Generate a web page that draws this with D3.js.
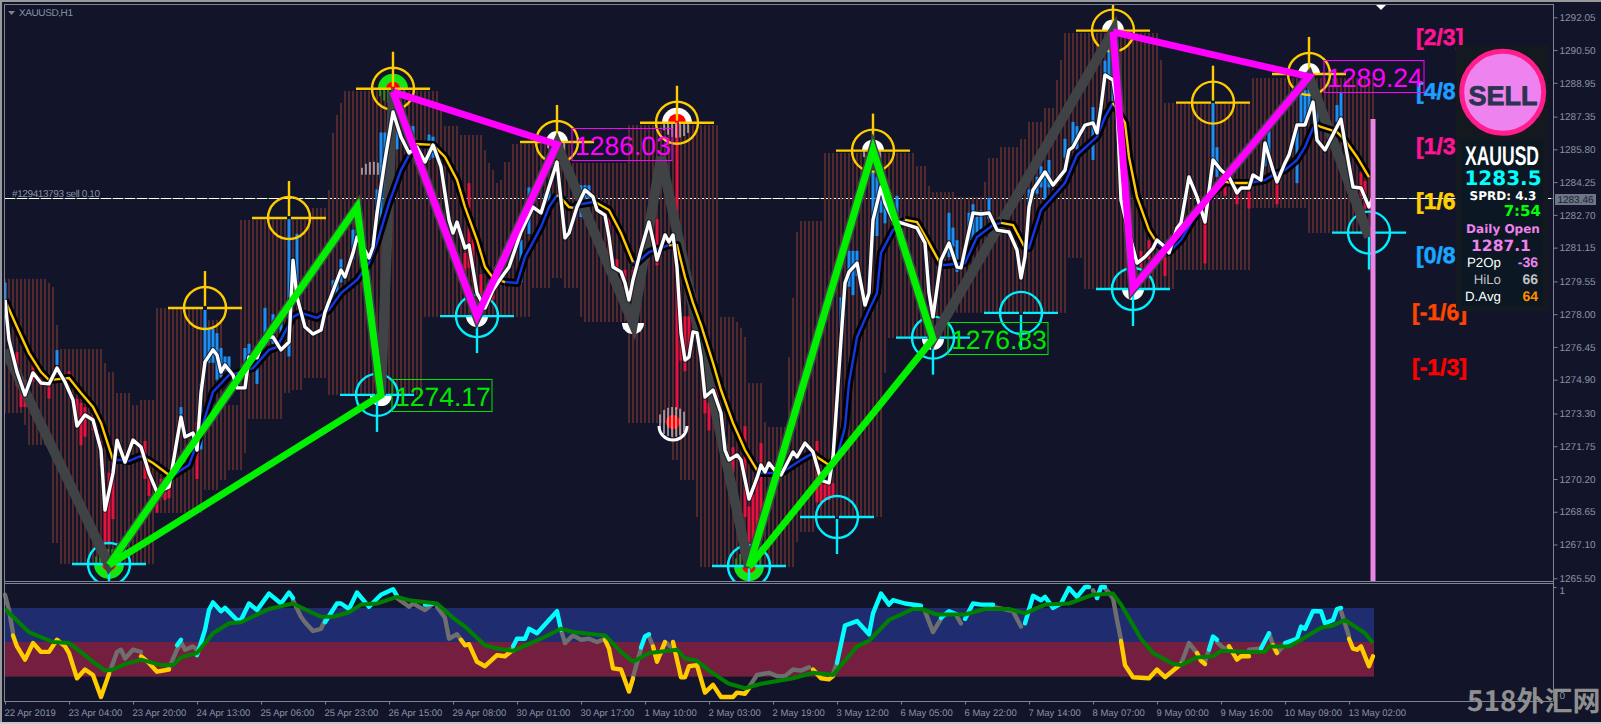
<!DOCTYPE html>
<html><head><meta charset="utf-8">
<script src="https://cdn.jsdelivr.net/npm/d3@7/dist/d3.min.js"></script>
<style>html,body{margin:0;padding:0;background:#12142a;overflow:hidden}svg{display:block}text{font-family:"Liberation Sans",Arial,sans-serif;text-rendering:geometricPrecision}</style>
</head><body><svg id="c" width="1601" height="724"></svg>
<script>
const priceTicks=[1292.05,1290.50,1288.95,1287.35,1285.80,1284.25,1282.70,1281.15,1279.55,1278.00,1276.45,1274.90,1273.30,1271.75,1270.20,1268.65,1267.10,1265.50];
const timeLabels=["22 Apr 2019","23 Apr 04:00","23 Apr 20:00","24 Apr 13:00","25 Apr 06:00","25 Apr 23:00","26 Apr 15:00","29 Apr 08:00","30 Apr 01:00","30 Apr 17:00","1 May 10:00","2 May 03:00","2 May 19:00","3 May 12:00","6 May 05:00","6 May 22:00","7 May 14:00","8 May 07:00","9 May 00:00","9 May 16:00","10 May 09:00","13 May 02:00"];
const lastBar=342, bidPrice=1283.46;
// envelope: [last bar index of the run, price]
const envTop=[[10,1279.67],[11,1279.48],[12,1279.29],[13,1277.49],[24,1276.35],[25,1275.69],[27,1275.26],[31,1274.27],[33,1273.70],[37,1273.94],[49,1278.29],[54,1277.72],[58,1273.70],[76,1282.46],[80,1283.03],[81,1283.88],[82,1286.58],[83,1287.43],[84,1288.00],[108,1288.56],[109,1287.76],[113,1286.91],[119,1286.48],[120,1285.77],[121,1285.16],[122,1284.82],[123,1284.21],[124,1284.35],[126,1285.20],[141,1286.05],[155,1285.16],[178,1286.95],[182,1277.87],[183,1277.63],[184,1277.35],[185,1276.92],[189,1274.74],[190,1272.90],[195,1272.66],[196,1275.97],[197,1278.77],[198,1281.89],[204,1282.41],[227,1285.63],[230,1285.01],[231,1284.07],[237,1283.78],[244,1283.55],[245,1284.26],[248,1285.39],[253,1285.91],[255,1286.29],[259,1287.10],[262,1287.76],[263,1289.08],[264,1290.03],[288,1291.31],[289,1290.03],[311,1288.00],[342,1289.18]];
const envBottom=[[4,1273.32],[5,1272.76],[11,1271.81],[13,1267.17],[37,1266.18],[49,1268.59],[53,1269.68],[55,1270.15],[59,1270.62],[60,1271.43],[69,1273.04],[71,1274.27],[74,1274.41],[80,1274.98],[104,1274.18],[131,1277.87],[136,1279.24],[139,1279.71],[143,1279.24],[144,1277.87],[155,1277.63],[166,1272.85],[168,1271.10],[172,1270.15],[173,1268.40],[197,1266.03],[198,1267.22],[202,1267.69],[219,1268.40],[220,1275.22],[235,1276.87],[265,1278.06],[269,1280.66],[292,1279.19],[311,1280.09],[325,1283.03],[342,1281.84]];
const blueBars=[[0,1279.5,1278.7],[13,1276.3,1275.6],[44,1273.6,1273.2],[49,1274.7,1271.6],[50,1278.2,1275.5],[51,1277.3,1275.7],[52,1277.3,1275.7],[53,1277.1,1274.9],[54,1276.4,1275.0],[55,1276.0,1275.3],[56,1276.0,1275.3],[60,1276.4,1275.7],[61,1276.6,1275.6],[63,1275.5,1274.7],[65,1278.3,1276.6],[67,1278.0,1276.6],[69,1278.1,1276.5],[71,1282.5,1276.0],[73,1281.8,1278.7],[82,1279.6,1278.7],[83,1279.6,1278.7],[84,1280.6,1279.5],[87,1282.0,1280.6],[88,1282.1,1281.2],[93,1283.9,1281.4],[94,1286.6,1282.1],[95,1286.6,1282.1],[96,1287.4,1285.4],[98,1286.9,1285.8],[102,1286.9,1285.9],[106,1286.5,1285.3],[107,1286.4,1285.4],[129,1281.5,1279.5],[131,1284.0,1281.8],[135,1283.7,1282.6],[136,1283.9,1283.1],[144,1284.1,1282.6],[145,1284.1,1283.4],[146,1284.1,1283.3],[209,1278.8,1277.3],[211,1281.0,1279.3],[212,1281.0,1278.9],[213,1281.0,1279.8],[217,1284.7,1281.7],[218,1284.5,1281.7],[219,1284.0,1282.8],[220,1283.7,1282.3],[222,1283.3,1282.3],[223,1283.6,1282.6],[236,1282.8,1280.7],[237,1282.1,1281.2],[238,1281.5,1280.0],[241,1282.8,1281.5],[242,1283.2,1281.5],[243,1282.6,1281.7],[244,1282.9,1282.0],[246,1283.5,1282.5],[256,1283.9,1283.1],[258,1284.5,1283.7],[259,1285.0,1284.0],[260,1284.8,1283.4],[261,1285.3,1284.0],[265,1286.3,1285.4],[267,1287.1,1285.9],[268,1286.9,1285.8],[272,1287.8,1285.3],[275,1290.0,1289.0],[276,1290.6,1289.1],[277,1289.7,1288.1],[302,1288.0,1285.3],[303,1285.9,1284.5],[315,1286.1,1285.0],[316,1286.7,1285.4],[323,1287.0,1284.2],[324,1288.5,1286.9],[325,1288.6,1286.9],[326,1289.1,1287.5],[328,1287.8,1286.4],[333,1287.9,1287.1],[334,1288.5,1287.2]];
const redBars=[[3,1276.2,1274.6],[4,1275.0,1273.6],[5,1274.9,1273.6],[7,1275.7,1274.8],[9,1275.3,1274.6],[11,1275.1,1274.0],[16,1275.3,1274.9],[18,1274.0,1272.7],[19,1273.8,1271.8],[20,1273.6,1272.2],[22,1273.6,1272.5],[24,1272.0,1270.8],[25,1269.3,1267.2],[26,1270.5,1267.1],[27,1271.0,1268.3],[35,1272.0,1270.2],[36,1271.2,1269.4],[38,1269.7,1268.6],[39,1270.2,1269.3],[40,1269.8,1269.2],[41,1270.0,1269.3],[48,1272.9,1270.2],[115,1280.9,1279.8],[116,1284.2,1280.2],[117,1281.8,1279.5],[119,1279.9,1278.7],[122,1279.3,1278.7],[151,1282.8,1280.2],[153,1280.6,1280.0],[155,1280.1,1279.1],[157,1280.1,1278.8],[163,1282.5,1280.3],[168,1287.05,1273.5],[169,1277.7,1275.8],[170,1277.9,1275.3],[171,1277.9,1276.3],[175,1274.6,1273.3],[176,1273.8,1272.5],[178,1274.6,1273.3],[182,1271.7,1270.5],[185,1272.7,1268.4],[186,1268.9,1267.2],[187,1269.5,1266.7],[188,1270.2,1267.2],[189,1271.9,1267.3],[203,1272.0,1269.1],[204,1270.3,1269.1],[205,1270.1,1269.2],[206,1270.0,1269.2],[207,1270.0,1269.3],[284,1281.0,1280.2],[286,1281.5,1280.6],[290,1280.7,1279.8],[300,1283.1,1280.4],[305,1284.5,1283.6],[308,1283.7,1283.2],[311,1283.8,1283.0],[318,1284.3,1283.2],[339,1284.7,1283.6],[340,1284.3,1283.0]];
const closeLine=[[0,1278.67],[1,1276.78],[3,1275.26],[5,1274.18],[7,1275.22],[9,1274.74],[11,1274.70],[13,1275.45],[15,1274.79],[17,1273.94],[18,1272.71],[20,1273.23],[22,1272.99],[24,1271.57],[25,1268.73],[27,1270.48],[28,1272.04],[30,1271.00],[32,1272.04],[34,1271.71],[36,1270.48],[38,1269.58],[41,1269.82],[43,1272.04],[44,1273.13],[45,1272.19],[47,1272.38],[48,1271.57],[49,1274.27],[50,1275.74],[52,1276.31],[53,1276.07],[54,1275.26],[55,1275.59],[57,1275.12],[58,1274.51],[60,1274.51],[61,1275.97],[63,1275.93],[65,1276.92],[67,1276.92],[69,1276.31],[71,1276.68],[72,1280.56],[73,1278.81],[75,1277.39],[77,1277.06],[79,1277.25],[80,1278.10],[84,1280.09],[85,1279.76],[87,1280.90],[88,1281.65],[89,1281.37],[91,1280.66],[92,1281.18],[93,1282.79],[95,1285.30],[97,1287.57],[99,1286.39],[101,1285.63],[103,1285.91],[105,1285.20],[107,1286.01],[109,1284.97],[111,1282.46],[112,1281.84],[113,1282.36],[115,1281.13],[116,1281.27],[118,1279.00],[120,1278.29],[122,1279.14],[124,1279.71],[126,1280.23],[129,1281.89],[132,1283.07],[134,1282.79],[136,1284.02],[138,1285.20],[139,1283.40],[140,1281.61],[141,1281.84],[143,1283.07],[145,1283.88],[147,1283.55],[148,1282.93],[150,1282.69],[151,1281.65],[152,1280.23],[154,1280.00],[155,1279.48],[156,1278.67],[157,1279.62],[159,1281.04],[161,1282.36],[162,1281.51],[163,1280.56],[165,1281.75],[166,1281.42],[167,1281.75],[168,1280.23],[169,1277.11],[170,1275.83],[171,1275.97],[172,1277.16],[173,1277.11],[174,1275.97],[175,1274.08],[177,1274.41],[179,1273.32],[180,1271.57],[181,1271.10],[183,1271.34],[184,1271.10],[186,1269.25],[188,1270.25],[189,1270.86],[190,1270.53],[191,1270.96],[193,1270.48],[194,1270.39],[197,1271.48],[198,1271.24],[200,1271.90],[202,1271.48],[204,1270.15],[206,1270.01],[207,1271.24],[208,1273.94],[209,1276.78],[210,1279.48],[211,1280.00],[213,1280.42],[215,1278.43],[216,1279.00],[217,1282.46],[219,1284.02],[220,1283.26],[222,1282.46],[224,1282.32],[228,1282.08],[230,1281.37],[231,1279.00],[232,1277.87],[234,1280.56],[236,1281.37],[238,1280.23],[239,1280.19],[242,1282.79],[244,1282.74],[246,1282.79],[248,1281.98],[251,1281.89],[253,1281.04],[254,1279.71],[255,1280.71],[256,1283.07],[257,1283.88],[260,1284.73],[262,1284.11],[265,1284.82],[266,1285.77],[267,1285.91],[269,1286.62],[270,1286.95],[272,1287.05],[273,1286.58],[274,1287.81],[275,1289.32],[277,1289.08],[278,1287.90],[279,1283.40],[281,1281.84],[283,1280.42],[285,1280.71],[287,1281.13],[288,1281.51],[290,1281.18],[291,1280.90],[293,1282.08],[294,1282.32],[296,1284.49],[298,1283.55],[300,1282.36],[302,1285.30],[304,1284.82],[306,1284.49],[308,1283.74],[309,1283.97],[311,1283.97],[312,1284.59],[314,1284.35],[315,1286.10],[317,1284.82],[318,1284.26],[320,1285.16],[321,1285.53],[323,1286.95],[325,1286.95],[327,1288.04],[328,1286.24],[330,1285.77],[334,1287.24],[335,1286.10],[337,1284.02],[339,1283.97],[341,1283.07],[342,1283.55]];
const maYellow=[
[[0,1278.67],[3,1277.39],[6,1276.16],[9,1275.26],[11,1274.88],[16,1274.98],[19,1274.27],[22,1273.61],[24,1272.85],[27,1271.10]],
[[34,1271.29],[37,1270.96],[41,1270.39]],
[[101,1285.53],[103,1286.05],[107,1286.01],[110,1285.44],[113,1284.35],[115,1283.07],[118,1281.51],[120,1280.23],[122,1279.71],[125,1279.52]],
[[138,1283.64],[139,1283.50],[141,1283.07],[142,1283.03]],
[[147,1283.31],[148,1283.26],[151,1282.93],[154,1281.84],[157,1280.47]],
[[166,1281.27],[168,1281.27],[170,1279.76],[172,1278.53],[174,1277.49],[177,1275.69],[179,1274.41],[182,1272.85],[185,1271.57],[188,1270.62]],
[[202,1271.43],[203,1271.24],[206,1270.86],[208,1271.24]],
[[225,1282.46],[228,1282.36],[231,1281.37],[234,1280.33]],
[[249,1282.32],[252,1282.22],[255,1281.13]],
[[277,1288.00],[280,1287.05],[281,1285.44],[283,1283.55],[286,1281.98],[288,1281.37]],
[[305,1284.26],[307,1284.21],[311,1284.21]],
[[328,1286.95],[329,1286.86],[333,1286.62],[335,1286.24],[338,1285.44],[341,1284.49]]];
const maBlue=[
[[27,1271.10],[29,1271.10],[31,1271.05],[34,1271.29]],
[[41,1270.25],[46,1270.86],[48,1271.90],[52,1274.32],[56,1275.12],[59,1275.26],[62,1275.45],[66,1276.31],[68,1276.45],[72,1277.87],[74,1278.06],[78,1277.82],[81,1278.20],[84,1279.00],[88,1279.62],[91,1280.42],[93,1281.37],[96,1283.26],[99,1284.82],[101,1285.53]],
[[125,1279.52],[128,1279.48],[130,1280.71],[134,1282.13],[136,1283.07],[138,1283.64]],
[[142,1283.03],[143,1283.17],[147,1283.31]],
[[157,1280.47],[158,1280.42],[161,1280.94],[166,1281.27]],
[[188,1270.62],[189,1270.48],[194,1270.48],[199,1271.10],[202,1271.43]],
[[208,1271.24],[210,1272.66],[211,1274.74],[213,1276.92],[216,1278.20],[218,1279.00],[219,1280.90],[222,1281.98],[225,1282.46]],
[[234,1280.33],[235,1280.33],[240,1280.42],[243,1281.65],[247,1282.22],[249,1282.32]],
[[255,1281.13],[256,1281.13],[259,1282.93],[265,1284.21],[268,1285.53],[273,1286.39],[275,1287.33],[277,1288.00]],
[[288,1281.37],[291,1280.94],[294,1281.51],[298,1282.79],[302,1283.74],[305,1284.26]],
[[311,1284.21],[315,1284.35],[317,1284.59],[320,1284.82],[323,1285.30],[325,1285.91],[327,1286.81],[328,1286.95]]];
const zigzag=[[0,1276.31],[26,1266.13],[88,1283.07],[94,1274.17],[97,1288.52],[118,1277.91],[138,1286.03],[157,1277.58],[164,1285.44],[186,1266.03],[217,1285.77],[232,1276.83],[277,1291.36],[282,1279.24],[326,1289.24],[341,1281.65]];
const triangleGreen=[[[26,1266.13],[88,1283.07],[94,1274.17],[26,1266.13]],[[186,1266.03],[217,1285.77],[232,1276.83],[186,1266.03]]];
const triangleMagenta=[[[97,1288.52],[118,1277.91],[138,1286.03],[97,1288.52]],[[277,1291.36],[282,1279.24],[326,1289.24],[277,1291.36]]];
const crossGold=[[97,1288.67],[71,1282.55],[50,1278.29],[138,1286.15],[168,1287.06],[217,1285.74],[277,1291.42],[302,1288.01],[326,1289.37]];
const crossCyan=[[26,1266.18],[93,1274.18],[118,1277.91],[254,1278.06],[232,1276.89],[208,1268.40],[186,1266.08],[282,1279.19],[341,1281.86]];
// half discs: [bar, price, radius, side] side -1 = solid upward, 1 = solid downward
const discGreen=[[97,1288.67,15,-1],[26,1266.18,15,1],[186,1266.08,15,1]];
const discWhite=[[138,1286.15,11,-1],[217,1285.74,11,-1],[168,1287.06,15,-1],[277,1291.42,11,-1],[326,1289.37,11,-1],[94,1274.17,11,1],[118,1277.91,11,1],[232,1276.83,11,1],[282,1279.19,11,1],[157,1277.58,11,1]];
const discRed=[[97,1288.67,7,-1],[26,1266.18,7,1],[186,1266.08,7,1],[168,1287.06,9,-1],[167,1272.90,7,-1],[167,1272.90,7,1]];
const discHatched=[[92,1284.6,-1,13],[167,1272.90,-1,15],[167,1272.90,1,15],[97,1288.67,1,15],[26,1266.18,-1,15],[186,1266.08,-1,15],[168,1287.06,1,15],[138,1286.15,1,11],[217,1285.74,1,11],[157,1277.58,1,11]];
const discCrescent=[[167,1272.90,14,1]];
const priceTags=[{t:"1274.17",i:93,p:1274.17,c:"#00e600"},{t:"1286.03",i:138,p:1286.03,c:"#ff00ff"},{t:"1276.83",i:232,p:1276.83,c:"#00e600"},{t:"1289.24",i:326,p:1289.24,c:"#ff00ff"}];
const gannLabels=[["[2/3]",1291.1,"#ff1493",1416],["[4/8",1288.55,"#1e9fff",1416],["[1/3",1285.95,"#ff1493",1416],["[1/6",1283.35,"#ffd000",1416],["[0/8",1280.8,"#19a8ff",1416],["[-1/6]",1278.1,"#ff4500",1412],["[-1/3]",1275.5,"#ff0000",1412]];
const bandEdges=[0.81,0.5,0.185];
const oscGray=[[[0,.93],[1,.79],[2,.58]],[[26,.21],[28,.41],[29,.43],[30,.35],[32,.43],[34,.41]],[[41,.26],[43,.43],[44,.50],[45,.43],[47,.46],[48,.43]],[[72,.88],[74,.73],[75,.68],[77,.60],[79,.62],[80,.70]],[[98,.90],[101,.82],[102,.85],[105,.79],[107,.85]],[[108,.82],[110,.72],[111,.53],[113,.57],[114,.52]],[[126,.43],[127,.42]],[[139,.61],[140,.49],[142,.56],[144,.52],[146,.53],[148,.50],[150,.53]],[[157,.18],[159,.44]],[[161,.55],[162,.46]],[[164,.40],[165,.50],[167,.44]],[[186,.09],[188,.20],[191,.22],[193,.19],[195,.19],[197,.25],[199,.24],[201,.27]],[[207,.21],[208,.31]],[[230,.78],[232,.59],[234,.71]],[[238,.73],[239,.67]],[[247,.82],[252,.78],[254,.64]],[[272,.97],[273,.90]],[[275,.99],[277,.90],[278,.70],[279,.52]],[[294,.30],[296,.49],[298,.40]],[[300,.32],[301,.43]],[[303,.50],[305,.43],[306,.46]],[[311,.43],[314,.44]],[[316,.58],[317,.47]],[[318,.40],[320,.48]],[[334,.78],[336,.55]]];
const oscGold=[[[2,.56],[3,.46],[5,.34],[7,.49],[9,.41],[11,.41],[13,.52],[15,.46],[16,.40],[18,.17],[20,.25],[22,.20],[24,.00],[26,.21]],[[34,.37],[36,.31],[38,.23],[41,.25]],[[114,.52],[115,.47],[116,.48],[118,.32],[120,.28],[123,.38],[125,.37],[127,.43]],[[150,.52],[151,.44],[152,.26],[154,.25],[156,.05],[157,.17]],[[162,.46],[163,.32],[165,.50]],[[167,.50],[169,.18],[170,.18],[171,.28],[173,.29],[175,.04],[177,.11],[179,.00],[182,.00],[183,.04],[185,.03],[186,.08]],[[202,.25],[204,.17],[206,.16],[207,.19]],[[279,.51],[280,.29],[282,.18],[286,.17],[288,.25],[290,.18],[294,.30]],[[298,.40],[299,.33],[300,.30]],[[306,.46],[308,.34],[309,.37],[311,.37]],[[317,.47],[318,.40]],[[336,.53],[337,.44],[338,.43],[339,.46],[341,.28],[342,.37]]];
const oscCyan=[[[43,.47],[44,.52]],[[48,.38],[50,.61],[51,.79],[52,.86],[54,.78],[55,.81],[58,.70],[59,.70],[61,.85],[63,.79],[66,.94],[68,.88],[69,.85],[71,.95],[72,.90]],[[80,.68],[83,.85],[84,.85],[86,.80],[88,.95],[91,.82],[94,.93],[97,.98],[98,.92]],[[105,.84],[107,.85]],[[127,.46],[128,.53],[130,.53],[131,.62],[133,.58],[138,.78],[139,.61]],[[159,.45],[160,.55],[161,.57]],[[208,.31],[210,.65],[213,.69],[216,.57],[217,.76],[219,.94],[221,.84],[222,.88],[225,.85],[229,.83]],[[234,.72],[236,.78],[238,.75]],[[240,.71],[242,.85],[244,.84],[247,.84]],[[255,.67],[257,.92],[259,.88],[260,.91],[262,.81],[264,.85],[266,.99],[268,.91],[270,1.0],[271,1.0]],[[273,.90],[274,1.0],[275,1.0]],[[301,.43],[302,.55],[303,.52]],[[314,.44],[316,.58]],[[320,.49],[323,.53],[324,.64],[325,.62],[327,.78],[329,.78],[330,.67],[332,.70],[333,.80],[334,.81]]];
const oscSignal=[[0,.80],[2,.73],[6,.59],[12,.50],[16,.49],[20,.38],[22,.32],[25,.24],[27,.25],[30,.30],[34,.34],[39,.29],[42,.29],[44,.36],[48,.40],[52,.58],[56,.67],[59,.68],[66,.80],[72,.85],[76,.78],[79,.73],[82,.73],[86,.77],[89,.84],[93,.85],[98,.91],[101,.88],[108,.85],[112,.72],[115,.64],[120,.47],[123,.44],[127,.42],[134,.53],[139,.62],[142,.59],[150,.56],[154,.41],[157,.32],[161,.40],[168,.43],[170,.35],[173,.33],[176,.24],[181,.12],[185,.08],[189,.12],[197,.17],[202,.22],[207,.20],[213,.46],[216,.51],[221,.70],[227,.80],[229,.80],[233,.75],[240,.75],[245,.80],[251,.80],[255,.76],[260,.84],[266,.85],[272,.93],[277,.94],[279,.84],[284,.53],[287,.40],[292,.30],[294,.29],[298,.36],[302,.37],[304,.42],[311,.41],[315,.41],[316,.46],[321,.46],[324,.52],[329,.63],[332,.65],[335,.70],[340,.58],[342,.49]];

const svg=d3.select("#c");
const BG="#12142a",AX="#7d8494",TXT="#8893a3";
const x=d3.scaleLinear().domain([0,lastBar]).range([5,1373]);
const py=d3.scaleLinear().domain([1265.50,1292.05]).range([578.3,17.3]);
const vy=d3.scaleLinear().domain([0,1]).range([697,587]);
const line=d3.line().x(d=>x(d[0])).y(d=>py(d[1]));
const vline=d3.line().x(d=>x(d[0])).y(d=>vy(d[1]));
svg.append("defs").append("clipPath").attr("id","main").append("rect").attr("x",5).attr("y",5).attr("width",1548).attr("height",576);
const runLookup=(runs,i)=>runs.find(r=>i<=r[0])[1];
// frame
svg.append("rect").attr("width",1601).attr("height",724).attr("fill",BG);
svg.append("rect").attr("width",1601).attr("height",2).attr("fill","#9a9a9a");
svg.append("rect").attr("width",2).attr("height",724).attr("fill","#9a9a9a");
svg.append("rect").attr("y",722).attr("width",1601).attr("height",2).attr("fill","#c8c8c8");

const g=svg.append("g").attr("clip-path","url(#main)");
// bid line
const bidY=Math.floor(py(bidPrice))+.5;
g.append("line").attr("x1",5).attr("x2",1553).attr("y1",bidY).attr("y2",bidY).attr("stroke","#1f9a1f");
g.append("line").attr("x1",5).attr("x2",1553).attr("y1",bidY).attr("y2",bidY).attr("stroke","#fff").attr("stroke-dasharray","10 2");
// envelope
g.append("g").selectAll("rect").data(d3.range(0,lastBar+1)).join("rect")
 .attr("x",i=>x(i)-1).attr("width",2).attr("fill","#522a2e")
 .attr("y",i=>py(runLookup(envTop,i))).attr("height",i=>py(runLookup(envBottom,i))-py(runLookup(envTop,i)));
// candles
[[blueBars,"#1d8ff2"],[redBars,"#e8123c"]].forEach(([arr,c])=>{
 g.append("g").selectAll("rect").data(arr).join("rect").attr("x",d=>x(d[0])-1.5).attr("width",3).attr("fill",c)
  .attr("y",d=>py(d[1])).attr("height",d=>py(d[2])-py(d[1]));
});
// half discs and hatching
const halfDisc=d=>{const r=d[2],s=d[3]<0?1:0;return `M${x(d[0])-r},${py(d[1])}A${r},${r} 0 0 ${s} ${x(d[0])+r},${py(d[1])}Z`;};
g.append("g").selectAll("path").data(discGreen).join("path").attr("d",halfDisc).attr("fill","#14e614");
g.append("g").selectAll("path").data(discWhite).join("path").attr("d",halfDisc).attr("fill","#fff");
g.append("g").selectAll("path").data(discRed).join("path").attr("d",halfDisc).attr("fill","#f00");
discHatched.forEach(d=>{
 const r=d[3],cx=x(d[0]),cy=py(d[1]),side=d[2];
 const c=discGreen.some(e=>e[0]===d[0]&&e[1]===d[1])?"#14e614":"#fff";
 g.append("g").selectAll("line").data(d3.range(-r+2,r,4)).join("line")
  .attr("x1",o=>cx+o).attr("x2",o=>cx+o).attr("y1",cy).attr("y2",o=>cy+side*Math.sqrt(r*r-o*o))
  .attr("stroke",c).attr("stroke-width",1);
});
g.append("g").selectAll("path").data(discCrescent).join("path")
 .attr("d",d=>`M${x(d[0])-d[2]},${py(d[1])+4}A${d[2]},${d[2]} 0 0 0 ${x(d[0])+d[2]},${py(d[1])+4}`)
 .attr("fill","none").attr("stroke","#fff").attr("stroke-width",3);
// crosshairs
function cross(data,color,arm){
 const c=g.append("g").selectAll("g").data(data).join("g").attr("transform",d=>`translate(${x(d[0])},${py(d[1])})`).attr("stroke",color).attr("fill","none").attr("stroke-width",2.4);
 c.append("circle").attr("r",21);
 c.append("line").attr("x1",-37).attr("x2",-2);
 c.append("line").attr("x1",2).attr("x2",37);
 c.append("line").attr("y1",arm*37).attr("y2",arm*2);
}
cross(crossGold,"#ffcc00",-1);
cross(crossCyan,"#00f0ff",1);
// zigzag
g.append("path").datum(zigzag).attr("d",line).attr("fill","none").attr("stroke","#404345").attr("stroke-width",10).attr("stroke-linejoin","miter");
// moving averages
g.append("g").selectAll("path").data(maYellow.concat(maBlue)).join("path").attr("d",line).attr("fill","none").attr("stroke","#000").attr("stroke-width",8).attr("stroke-linejoin","round");
g.append("g").selectAll("path").data(maBlue).join("path").attr("d",line).attr("fill","none").attr("stroke","#1438e6").attr("stroke-width",2.4);
g.append("g").selectAll("path").data(maYellow).join("path").attr("d",line).attr("fill","none").attr("stroke","#ffc800").attr("stroke-width",2.4);
// close line
g.append("path").datum(closeLine).attr("d",line).attr("fill","none").attr("stroke","#14161f").attr("stroke-width",5.5).attr("stroke-linejoin","round").attr("opacity",.75);
g.append("path").datum(closeLine).attr("d",line).attr("fill","none").attr("stroke","#fff").attr("stroke-width",3.4).attr("stroke-linejoin","round");
// triangles
g.append("g").selectAll("path").data(triangleGreen).join("path").attr("d",line).attr("fill","none").attr("stroke","#00f000").attr("stroke-width",7).attr("stroke-linejoin","miter");
g.append("g").selectAll("path").data(triangleMagenta).join("path").attr("d",line).attr("fill","none").attr("stroke","#ff00ff").attr("stroke-width",7).attr("stroke-linejoin","miter");
// pink vertical
g.append("rect").attr("x",x(lastBar)-2.5).attr("width",5).attr("y",119).attr("height",462).attr("fill","#e884e4");
// marker triangle
svg.append("path").attr("d","M1376,5L1386,5L1381,10Z").attr("fill","#fff");
// gann
svg.append("g").selectAll("text").data(gannLabels).join("text").attr("x",d=>d[3]).attr("y",d=>py(d[1])+8).text(d=>d[0]).attr("fill",d=>d[2]).attr("stroke",d=>d[2]).attr("stroke-width",.5).attr("font-size",23).attr("font-weight","bold");
// price tags
const tg=svg.append("g").selectAll("g").data(priceTags).join("g").attr("transform",d=>`translate(${x(d.i)+15},${Math.round(py(d.p)-16.5)+.5})`);
tg.append("rect").attr("width",100).attr("height",32).attr("fill","none").attr("stroke",d=>d.c);
tg.append("text").attr("x",3).attr("y",26).attr("font-size",26.5).attr("fill",d=>d.c).text(d=>d.t);
// info panel
svg.append("rect").attr("x",1456).attr("y",45).attr("width",92).attr("height",266).attr("fill","#14191f");
svg.append("rect").attr("x",1461).attr("y",140).attr("width",82).attr("height",166).attr("fill","#0b1722");
svg.append("circle").attr("cx",1502.7).attr("cy",92.3).attr("r",41).attr("fill","#ee82ee").attr("stroke","#ff1e8c").attr("stroke-width",5);
svg.append("text").attr("x",1503).attr("y",105).attr("text-anchor","middle").attr("font-size",27).attr("font-weight","bold").attr("fill","#2b3350").attr("stroke","#2b3350").attr("stroke-width",.8).text("SELL");
const D="DejaVu Sans";
function t(s,xx,yy,size,fill,anchor,font,weight,extra){
 const e=svg.append("text").attr("x",xx).attr("y",yy).attr("font-size",size).attr("fill",fill).attr("text-anchor",anchor||"start").attr("font-weight",weight||"bold").text(s);
 if(font)e.style("font-family",font);
 if(extra)extra(e);
 return e;
}
t("XAUUSD",1465,165,27,"#fff","start",null,"bold",e=>e.attr("textLength",74).attr("lengthAdjust","spacingAndGlyphs"));
t("1283.5",1503,185,20,"#00ffff","middle",D);
t("SPRD: 4.3",1503,200,12,"#fff","middle",D);
t("7:54",1541,216,15,"#00ff00","end",D);
t("Daily Open",1503,233,12,"#ee82ee","middle",D);
t("1287.1",1501,251,15.5,"#ee82ee","middle",D);
t("P2Op",1501,267,13.3,"#fff","end",null,"normal");
t("HiLo",1501,284,13.3,"#c0c0c0","end",null,"normal");
t("D.Avg",1501,301,13.3,"#fff","end",null,"normal");
t("-36",1538,267,14,"#ee82ee","end");
t("66",1538,284,14,"#c0c0c0","end");
t("64",1538,301,14,"#ff8c00","end");
// oscillator panel
svg.append("rect").attr("x",5).attr("width",1369).attr("y",vy(bandEdges[0])).attr("height",vy(bandEdges[1])-vy(bandEdges[0])).attr("fill","#1f2d70");
svg.append("rect").attr("x",5).attr("width",1369).attr("y",vy(bandEdges[1])).attr("height",vy(bandEdges[2])-vy(bandEdges[1])).attr("fill","#741f3f");
[[oscGray,"#6e6e6e"],[oscGold,"#ffcc00"],[oscCyan,"#00ffff"]].forEach(([arr,c])=>{
 svg.append("g").selectAll("path").data(arr).join("path").attr("d",vline).attr("fill","none").attr("stroke",c).attr("stroke-width",4.4).attr("stroke-linejoin","round").attr("stroke-linecap","round");
});
svg.append("path").datum(oscSignal).attr("d",vline).attr("fill","none").attr("stroke","#008000").attr("stroke-width",4).attr("stroke-linejoin","round");
// frame lines
[[4,4,1553,4],[4,581,1553,581],[4,583,1553,583],[4,701,1553,701]].forEach(l=>svg.append("line").attr("x1",l[0]).attr("y1",l[1]+.5).attr("x2",l[2]).attr("y2",l[3]+.5).attr("stroke",AX));
svg.append("line").attr("x1",4.5).attr("x2",4.5).attr("y1",4).attr("y2",701).attr("stroke",AX);
svg.append("line").attr("x1",1553.5).attr("x2",1553.5).attr("y1",4).attr("y2",701).attr("stroke",AX);
// axes
const styleAxis=a=>{a.select(".domain").remove();a.selectAll("line").attr("stroke",AX);a.selectAll("text").attr("fill",TXT).attr("font-size",10).style("font-family",'"Liberation Sans",sans-serif');};
svg.append("g").attr("transform","translate(1553.5,0)").call(d3.axisRight(py).tickValues(priceTicks).tickFormat(d3.format(".2f")).tickSize(4).tickPadding(2)).call(styleAxis);
svg.append("g").attr("transform","translate(1553.5,0)").call(d3.axisRight(vy).tickValues([0,1]).tickFormat(d3.format("d")).tickSize(3).tickPadding(3)).call(styleAxis).selectAll("text").attr("transform",d=>`translate(0,${d?3:-2})`);
svg.append("g").attr("transform","translate(0,701.5)").call(d3.axisBottom(x).tickValues(timeLabels.map((_,k)=>k*16)).tickFormat(i=>timeLabels[i/16]).tickSize(3).tickPadding(5)).call(styleAxis).selectAll("text").attr("text-anchor","start").attr("dx",-1).attr("font-size",9.5);
// bid tag
svg.append("rect").attr("x",1555).attr("y",194).attr("width",41).attr("height",11).attr("fill","#6c7686");
svg.append("text").attr("x",1575.5).attr("y",203).attr("text-anchor","middle").attr("font-size",10).attr("fill","#1a1e30").text(bidPrice.toFixed(2));
// titles
svg.append("path").attr("d","M8,11L15,11L11.5,15Z").attr("fill",AX);
svg.append("text").attr("x",19).attr("y",16).attr("font-size",10).attr("fill",TXT).attr("textLength",54).text("XAUUSD,H1");
svg.append("text").attr("x",12).attr("y",197).attr("font-size",10).attr("fill",TXT).attr("textLength",88).text("#129413793 sell 0.10");
// watermark
svg.append("text").attr("x",1467).attr("y",711).attr("font-size",28).attr("font-weight","bold").attr("fill","#8f8f8f").style("font-family",'"Noto Sans CJK SC",sans-serif').text("518外汇网");
</script></body></html>
